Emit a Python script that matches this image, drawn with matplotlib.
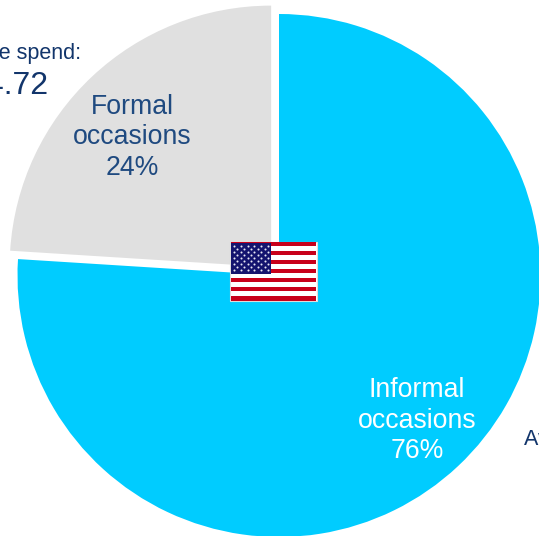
import matplotlib
matplotlib.use('Agg')
import matplotlib.pyplot as plt
from matplotlib.patches import Rectangle

plt.rcParams['font.family'] = ['Liberation Sans', 'DejaVu Sans']

labels = ['Informal\noccasions\n76%', 'Formal\noccasions\n24%']
shares = [76, 24]
colors = ['#00CCFF', '#E0E0E0']
# pie() shifts a slice by this many data units, and the axes are in pixels here
explode = [0, 11.5]
label_colors = ['white', '#1F4A80']
label_pos = [(417, 420.5), (132, 137.5)]
NAVY = '#12356B'

H = 536
fig = plt.figure(figsize=(5.39, 5.36), dpi=100)
ax = fig.add_axes([0, 0, 1, 1])

# the pie runs clockwise from 12 o'clock, formal slice pulled out
ax.pie(shares, colors=colors, explode=explode, startangle=90, counterclock=False,
       center=(279, H - 275.5), radius=261.5, frame=True)
ax.set_xlim(0, 539)
ax.set_ylim(0, H)
ax.set_aspect('auto')
ax.axis('off')

for txt, col, (x, y) in zip(labels, label_colors, label_pos):
    ax.text(x, H - y, txt, color=col, fontsize=19.2, ha='center', va='center', linespacing=1.22)

# average spend callouts, both run off the edge of the page
ax.text(81, H - 54, 'Average spend:', color=NAVY, fontsize=15.5, ha='right', va='center')
ax.text(49, H - 85, '$4.72', color=NAVY, fontsize=23, ha='right', va='center')
ax.text(524, H - 440, 'Average spend:', color=NAVY, fontsize=15.5, ha='left', va='center')

# small US flag on top of the pie centre
fx, fy, fw, fh = 230, H - 301, 87, 59
ax.add_patch(Rectangle((fx, fy), fw, fh, fc='white', ec='#DDDDDD', lw=0.8, zorder=5))
stripe = fh / 13
for i in range(0, 13, 2):
    ax.add_patch(Rectangle((fx + 1, fy + i * stripe + 0.5), fw - 2, stripe * 0.9,
                           fc='#C8001A', ec='none', zorder=6))
ax.add_patch(Rectangle((fx + 1, fy + 6 * stripe), 40, 7 * stripe - 1,
                       fc='#14146E', ec='none', zorder=7))
star_x, star_y = [], []
for row in range(9):
    n = 6 if row % 2 == 0 else 5
    off = 0 if row % 2 == 0 else 3.4
    for c in range(n):
        star_x.append(fx + 4 + off + c * 6.8)
        star_y.append(fy + fh - 3.5 - row * 3.1)
ax.scatter(star_x, star_y, s=2.2, color='#E8E8F4', linewidths=0, zorder=8)

fig.savefig('out.png', dpi=100, facecolor='white')
